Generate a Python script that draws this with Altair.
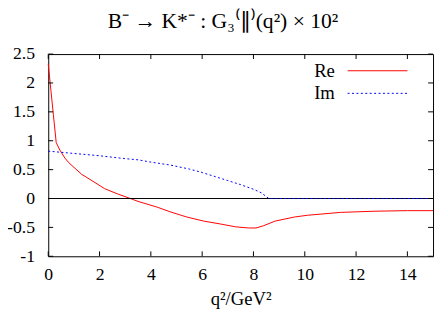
import altair as alt
import pandas as pd

# Re part
re_q2 = [0, 0.1, 0.2, 0.31, 0.45, 0.65, 0.8, 1.0, 1.3, 1.7, 2.2, 2.7, 3.2, 3.5, 4.25, 4.75,
         5.4, 6.05, 6.7, 7.3, 7.8, 8.1, 8.4, 8.85, 9.6, 10.1, 11.4, 12.7, 14, 15]
re_val = [2.33, 1.89, 1.45, 0.97, 0.84, 0.70, 0.62, 0.54, 0.42, 0.31, 0.17, 0.08, 0.0, -0.05,
          -0.15, -0.23, -0.32, -0.39, -0.44, -0.49, -0.51, -0.51, -0.47, -0.39, -0.32, -0.29,
          -0.24, -0.22, -0.21, -0.21]
# Im part
im_q2 = [0, 1, 2, 3, 3.5, 4, 4.75, 5.5, 6, 6.5, 7, 7.5, 8, 8.3, 8.6, 10, 12, 15]
im_val = [0.82, 0.78, 0.74, 0.69, 0.67, 0.63, 0.58, 0.51, 0.45, 0.38, 0.31, 0.24, 0.16, 0.1,
          0.0, 0.0, 0.0, 0.0]

series = ["Re", "Im"]
x_ticks = [0, 2, 4, 6, 8, 10, 12, 14]
y_ticks = [-1, -0.5, 0, 0.5, 1, 1.5, 2, 2.5]

W, H = 392, 206
FONT = "Liberation Serif"

df = pd.concat([
    pd.DataFrame({"q2": re_q2, "v": re_val, "s": series[0]}),
    pd.DataFrame({"q2": im_q2, "v": im_val, "s": series[1]}),
])

xs = alt.Scale(domain=[0, 15], nice=False, zero=False)
ys = alt.Scale(domain=[-1, 2.5], nice=False, zero=False)

common = dict(grid=False, domain=False, ticks=False, labelFont=FONT, labelFontSize=18,
              labelColor="black", labelOverlap=False, labelFlush=False)
xaxis = alt.Axis(values=x_ticks, labelPadding=10, title="q²/GeV²", titlePadding=6,
                 titleFont=FONT, titleFontSize=19, titleFontWeight="normal",
                 titleColor="black", **common)
yaxis = alt.Axis(values=y_ticks, labelPadding=14, title=None, format=".2~f",
                 labelExpr="replace(datum.label, '\u2212', '-')", **common)

colors = {"Re": "#ff0000", "Im": "#0000ff"}

re_line = alt.Chart(df).transform_filter(alt.datum.s == "Re").mark_line(
    color=colors["Re"], strokeWidth=1).encode(
    x=alt.X("q2:Q", scale=xs, axis=xaxis), y=alt.Y("v:Q", scale=ys, axis=yaxis))
im_line = alt.Chart(df).transform_filter(alt.datum.s == "Im").mark_line(
    color=colors["Im"], strokeWidth=1, strokeDash=[2, 2.5]).encode(
    x=alt.X("q2:Q", scale=xs, axis=xaxis), y=alt.Y("v:Q", scale=ys, axis=yaxis))

zero = alt.Chart(pd.DataFrame({"y": [0]})).mark_rule(color="black", strokeWidth=1).encode(
    y=alt.Y("y:Q", scale=ys, axis=yaxis))

xt = pd.DataFrame({"x": x_ticks})
yt = pd.DataFrame({"y": y_ticks})
TL = 5
tb = alt.Chart(xt).mark_rule(color="black").encode(x=alt.X("x:Q", scale=xs, axis=xaxis), y=alt.value(H), y2=alt.value(H - TL))
tt = alt.Chart(xt).mark_rule(color="black").encode(x=alt.X("x:Q", scale=xs, axis=xaxis), y=alt.value(0), y2=alt.value(TL))
tl = alt.Chart(yt).mark_rule(color="black").encode(y=alt.Y("y:Q", scale=ys, axis=yaxis), x=alt.value(0), x2=alt.value(TL))
tr = alt.Chart(yt).mark_rule(color="black").encode(y=alt.Y("y:Q", scale=ys, axis=yaxis), x=alt.value(W), x2=alt.value(W - TL))

base = alt.Chart(pd.DataFrame({"a": [0]}))
leg = []
for i, s in enumerate(series):
    yy = 17 + 23 * i
    leg.append(base.mark_text(align="right", baseline="middle", font=FONT, fontSize=19,
                              color="black").encode(x=alt.value(292), y=alt.value(yy), text=alt.value(s)))
    kw = {"strokeDash": [2, 2.5]} if s == "Im" else {}
    leg.append(base.mark_rule(color=colors[s], strokeWidth=1, **kw).encode(
        x=alt.value(305), x2=alt.value(366), y=alt.value(yy)))

chart = alt.layer(re_line, zero, im_line, tb, tt, tl, tr, *leg).properties(
    width=W, height=H,
    title=alt.TitleParams("B⁻ → K*⁻ : G₃⁽∥⁾(q²) × 10²", font=FONT, fontSize=22,
                          fontWeight="normal", color="black", anchor="middle", dx=-18, offset=13),
    autosize=alt.AutoSizeParams(type="none"),
    padding={"left": 41, "top": 44, "right": 2, "bottom": 64},
).configure(font=FONT, background="white").configure_axis(
    grid=False, domain=False, ticks=False, labelFont=FONT, labelFontSize=18,
    labelColor="black", labelOverlap=False, labelFlush=False, titleFont=FONT,
    titleFontSize=19, titleFontWeight="normal", titleColor="black"
).configure_view(stroke="black", strokeWidth=1)

chart.save("out.html", embed_options={"renderer": "svg", "actions": False})
